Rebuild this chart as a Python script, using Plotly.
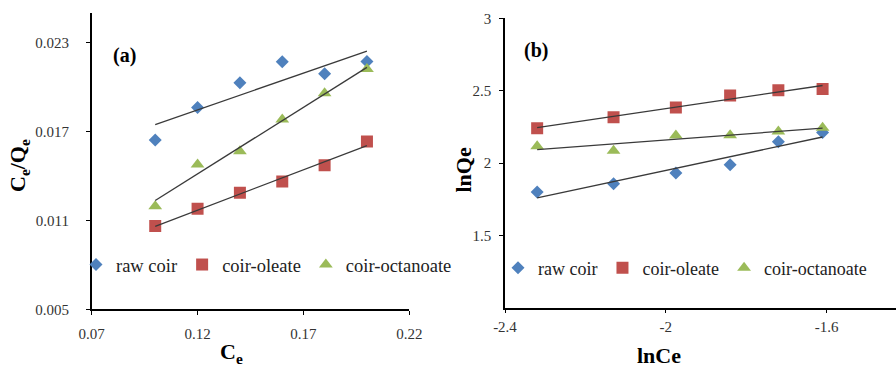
import numpy as np
import plotly.graph_objects as go

# ---------- data ----------
series_names = ["raw coir", "coir-oleate", "coir-octanoate"]
series_colors = ["#4F81BD", "#C0504D", "#9BBB59"]
series_symbols = ["diamond", "square", "triangle-up"]
series_sizes = [10, 12, 12]

# Panel (a): Ce vs Ce/Qe
ce = [0.10, 0.12, 0.14, 0.16, 0.18, 0.20]
ceqe_raw = [0.01644, 0.01864, 0.02030, 0.02173, 0.02092, 0.02175]
ceqe_oleate = [0.01062, 0.01179, 0.01287, 0.01364, 0.01474, 0.01634]
ceqe_octanoate = [0.01197, 0.01478, 0.01568, 0.01783, 0.01959, 0.02124]

# Panel (b): lnCe vs lnQe
lnce = [-2.32, -2.13, -1.975, -1.84, -1.72, -1.61]
lnqe_raw = [1.799, 1.856, 1.931, 1.988, 2.146, 2.210]
lnqe_oleate = [2.240, 2.317, 2.384, 2.467, 2.502, 2.511]
lnqe_octanoate = [2.115, 2.085, 2.190, 2.192, 2.217, 2.243]

a_xticks = [0.07, 0.12, 0.17, 0.22]
a_xticktext = ["0.07", "0.12", "0.17", "0.22"]
a_yticks = [0.005, 0.011, 0.017, 0.023]
a_yticktext = ["0.005", "0.011", "0.017", "0.023"]
b_xticks = [-2.4, -2.0, -1.6]
b_xticktext = ["-2.4", "-2", "-1.6"]
b_yticks = [1.5, 2.0, 2.5, 3.0]
b_yticktext = ["1.5", "2", "2.5", "3"]

# ---------- figure ----------
W, H = 896, 367
SERIF = "Liberation Serif"
fig = go.Figure()

def add_panel(xs, ys_list, xa, ya, legend):
    for name, ys, col, sym, sz in zip(series_names, ys_list, series_colors,
                                       series_symbols, series_sizes):
        fig.add_trace(go.Scatter(
            x=xs, y=ys, mode="markers", name=name,
            marker=dict(symbol=sym, color=col, size=sz, line=dict(width=0)),
            xaxis=xa, yaxis=ya, legend=legend, showlegend=True))
    for ys in ys_list:
        k, b = np.polyfit(xs, ys, 1)
        xe = [min(xs), max(xs)]
        fig.add_trace(go.Scatter(
            x=xe, y=[k * v + b for v in xe], mode="lines",
            line=dict(color="#3a3a3a", width=1.3),
            xaxis=xa, yaxis=ya, showlegend=False, hoverinfo="skip"))

add_panel(ce, [ceqe_raw, ceqe_oleate, ceqe_octanoate], "x", "y", "legend")
add_panel(lnce, [lnqe_raw, lnqe_oleate, lnqe_octanoate], "x2", "y2", "legend2")

def px(v):
    return v / W

def py(v):
    return 1 - v / H

tickfont = dict(family=SERIF, size=15, color="#333333")
axis_common = dict(showgrid=False, zeroline=False, showline=True,
                   linecolor="black", linewidth=1.5, ticks="outside",
                   ticklen=4, tickwidth=1, tickcolor="black",
                   tickfont=tickfont, tickmode="array", automargin=False)

fig.update_layout(
    width=W, height=H,
    margin=dict(l=0, r=0, t=0, b=0, pad=0, autoexpand=False),
    paper_bgcolor="white", plot_bgcolor="white",
    font=dict(family=SERIF, size=15),
    xaxis=dict(domain=[px(91.7), px(409.3)], range=[0.07, 0.22],
               tickvals=a_xticks, ticktext=a_xticktext, anchor="y",
               ticklabelstandoff=6, **axis_common),
    yaxis=dict(domain=[py(309.3), py(13.3)], range=[0.005, 0.025],
               tickvals=a_yticks, ticktext=a_yticktext, anchor="x",
               ticklabelstandoff=14, **axis_common),
    xaxis2=dict(domain=[px(505), 1.0], range=[-2.4, -1.4274],
                tickvals=b_xticks, ticktext=b_xticktext, anchor="y2",
                ticklabelstandoff=1, **axis_common),
    yaxis2=dict(domain=[py(307.7), py(18.3)], range=[1.0, 3.0],
                tickvals=b_yticks, ticktext=b_yticktext, anchor="x2",
                ticklabelstandoff=5, **axis_common),
    legend=dict(orientation="h", x=px(76), xanchor="left", y=py(265),
                yanchor="middle", bgcolor="rgba(0,0,0,0)",
                font=dict(family=SERIF, size=18.5, color="#222222")),
    legend2=dict(orientation="h", x=px(498), xanchor="left", y=py(268),
                 yanchor="middle", bgcolor="rgba(0,0,0,0)",
                 font=dict(family=SERIF, size=18, color="#222222")),
    showlegend=True,
)

title_font = dict(family=SERIF, size=22, color="black")
annots = [
    dict(text="<b>C<sub>e</sub></b>", x=px(231.7), y=py(353)),
    dict(text="<b>lnCe</b>", x=px(659), y=py(355)),
    dict(text="<b>C<sub>e</sub>/Q<sub>e</sub></b>", x=px(19), y=py(166), textangle=-90),
    dict(text="<b>lnQe</b>", x=px(463.5), y=py(170), textangle=-90),
    dict(text="<b>(a)</b>", x=px(124), y=py(55), font=dict(family=SERIF, size=20, color="black")),
    dict(text="<b>(b)</b>", x=px(536), y=py(50), font=dict(family=SERIF, size=20, color="black")),
]
for a in annots:
    a.setdefault("font", title_font)
    fig.add_annotation(xref="paper", yref="paper", showarrow=False,
                       xanchor="center", yanchor="middle", **a)

fig.write_html("out.html")
